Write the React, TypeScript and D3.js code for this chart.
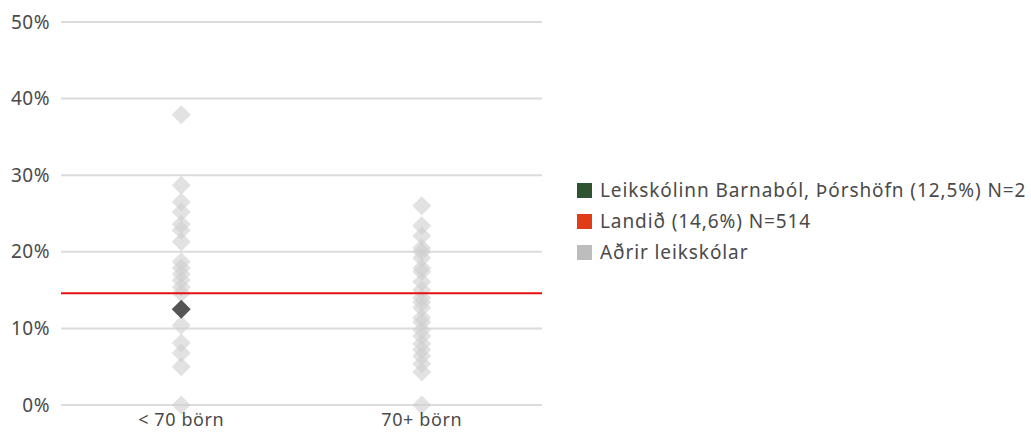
import React from "react";
import * as d3 from "d3";

const categories = ["< 70 börn", "70+ börn"];
const smallSchools = [37.9, 28.7, 26.5, 25.2, 23.6, 22.8, 21.3, 18.7, 17.9, 17.1, 16.3, 15.4, 14.6, 10.4, 8.1, 6.8, 5.0, 0];
const largeSchools = [26.0, 23.4, 22.1, 20.5, 20.0, 19.2, 17.9, 17.4, 16.1, 15.0, 14.0, 13.4, 12.7, 11.4, 10.8, 9.8, 9.0, 8.0, 7.2, 6.4, 5.4, 4.3, 0];
const otherSeries = [smallSchools, largeSchools];
const highlightCategory = "< 70 börn";
const highlightValue = 12.5;
const nationalValue = 14.6;
const yTicks = [0, 10, 20, 30, 40, 50];
const legendItems = [
  { label: "Leikskólinn Barnaból, Þórshöfn (12,5%) N=2", color: "#2e5330" },
  { label: "Landið (14,6%) N=514", color: "#e03c18" },
  { label: "Aðrir leikskólar", color: "#bdbdbd" },
];

const W = 1031;
const H = 432;
const left = 61;
const right = 542;
const top = 22;
const bottom = 405;
const font = "'Noto Sans', Lato, sans-serif";

export default function App() {
  const x = d3.scaleBand<string>().domain(categories).range([left, right]);
  const y = d3.scaleLinear().domain([0, 50]).range([bottom, top]);
  const diamond = (cx: number, cy: number, r: number) =>
    `M${cx},${cy - r}L${cx + r},${cy}L${cx},${cy + r}L${cx - r},${cy}Z`;

  return (
    <svg width={W} height={H} style={{ position: "absolute", left: 0, top: 0 }}>
      {yTicks.map((t) => (
        <g key={t}>
          <line x1={left} x2={right} y1={y(t)} y2={y(t)} stroke="#dcdcdc" strokeWidth={2} />
          <text x={50} y={y(t)} dy="0.35em" textAnchor="end" fontFamily={font} fontSize={19} letterSpacing={0.5} fill="#4a4a4a">
            {t}%
          </text>
        </g>
      ))}
      {categories.map((c, i) => (
        <g key={c}>
          {otherSeries[i].map((v, j) => (
            <path
              key={j}
              d={diamond(x(c)! + x.bandwidth() / 2, y(v), 9.5)}
              fill="#cfcfcf"
              fillOpacity={0.6}
            />
          ))}
          <text
            x={x(c)! + x.bandwidth() / 2}
            y={426}
            textAnchor="middle"
            fontFamily={font}
            fontSize={18}
            letterSpacing={0.6}
            fill="#4a4a4a"
          >
            {c}
          </text>
        </g>
      ))}
      <line x1={left} x2={right} y1={y(nationalValue)} y2={y(nationalValue)} stroke="#e8100e" strokeWidth={2} />
      <path
        d={diamond(x(highlightCategory)! + x.bandwidth() / 2, y(highlightValue), 9.5)}
        fill="#555"
      />
      {legendItems.map((item, i) => (
        <g key={item.label} transform={`translate(577, ${190 + i * 31})`}>
          <rect x={0} y={-7} width={15} height={15} fill={item.color} />
          <text x={23} y={0} dy="0.35em" fontFamily={font} fontSize={19} letterSpacing={0.9} fill="#4a4a4a">
            {item.label}
          </text>
        </g>
      ))}
    </svg>
  );
}
